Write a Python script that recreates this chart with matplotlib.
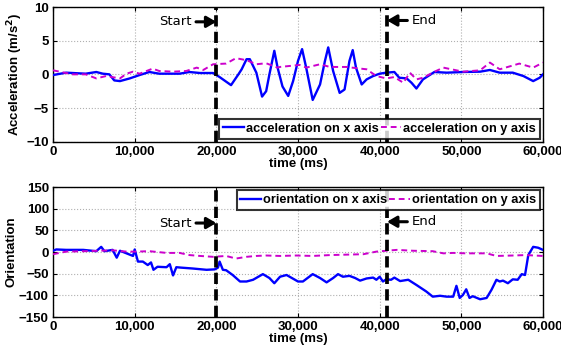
import matplotlib
matplotlib.use("Agg")
import matplotlib.pyplot as plt
from matplotlib.ticker import FuncFormatter

plt.rcParams["font.family"] = ["Liberation Sans", "DejaVu Sans"]
plt.rcParams["font.weight"] = "bold"

# acceleration, x axis (time in ms, value in m/s^2)
acc_x_t = [0, 1600, 4000, 5300, 6100, 6900, 7500, 8200, 9400, 10600, 11800, 13000,
           15500, 16700, 18000, 19600, 20400, 21800, 22700, 23100, 23700, 24100, 24900,
           25600, 26100, 26500, 27100, 27500, 28100, 28800, 29400, 30000, 30500, 31000,
           31800, 32700, 33300, 33700, 34300, 35100, 35700, 36300, 36700, 37100, 37800,
           38400, 39200, 40000, 40800, 41800, 42400, 43300, 43900, 44500, 45300, 46700,
           48200, 50200, 52300, 53500, 54700, 56300, 57600, 58800, 59600, 60000]
acc_x = [-0.1, 0.25, 0.1, 0.35, 0.1, 0.0, -0.9, -1.0, -0.6, -0.1, 0.35, 0.1,
         0.1, 0.35, 0.2, 0.2, -0.4, -1.6, 0.0, 0.75, 2.25, 2.25, 0.25,
         -3.3, -2.5, 0.0, 3.5, 1.0, -1.8, -3.2, -1.0, 2.0, 3.75, 1.0,
         -3.8, -1.5, 2.0, 4.0, 0.5, -2.75, -2.25, 2.0, 3.6, 1.0, -1.5,
         -0.75, -0.25, 0.1, 0.25, 0.35, -0.5, -0.6, -1.25, -2.1, -0.75, 0.35,
         0.25, 0.35, 0.4, 0.65, 0.25, 0.25, -0.25, -1.0, -0.5, 0.0]

# acceleration, y axis
acc_y_t = [0, 800, 2400, 4000, 5300, 6500, 8200, 9000, 9800, 10600, 12200, 13000,
           14700, 16300, 17600, 18400, 19600, 21200, 22400, 23700, 24900, 26100, 27500,
           27800, 30200, 31000, 32700, 33900, 35900, 38400, 39600, 40800, 41800, 42900,
           43700, 44500, 45300, 46900, 47800, 50200, 52300, 53500, 54700, 57100, 58800,
           60000]
acc_y = [0.6, 0.4, 0.0, 0.0, -0.6, -0.25, -0.6, 0.1, 0.4, 0.1, 0.85, 0.5,
         0.4, 0.5, 1.0, 0.65, 1.5, 1.6, 2.4, 2.1, 1.5, 1.65, 1.0,
         1.1, 1.4, 1.0, 1.5, 1.1, 1.1, 0.75, -0.25, -0.6, -0.4, -1.25,
         0.25, -0.75, -0.5, 0.5, 1.0, 0.4, 0.6, 1.75, 0.75, 1.6, 1.0,
         1.75]

# orientation, x axis
ori_x_t = [0, 400, 1600, 3700, 5300, 5900, 6300, 7300, 7800, 8200, 9000, 9800,
           10000, 10400, 11000, 11600, 12000, 12300, 12800, 13900, 14300, 14700, 15100,
           15700, 17100, 18800, 19800, 20200, 20400, 20800, 21200, 22000, 22900, 23700,
           24500, 25700, 26500, 27100, 27800, 28600, 30000, 30600, 31800, 32700, 33500,
           34300, 34900, 35500, 36300, 37000, 37600, 38400, 39200, 39600, 40000, 40400,
           40800, 41400, 41800, 42500, 43500, 44500, 45700, 46500, 47400, 48200, 49000,
           49400, 49800, 50200, 50600, 51000, 51400, 52300, 53100, 53700, 54300, 54700,
           55100, 55700, 56300, 56900, 57400, 57800, 58200, 58800, 59400, 60000]
ori_x = [3, 6, 5, 5, 2, 12, 2, 5, -13, 3, -3, -9,
         6, -22, -22, -30, -24, -41, -34, -35, -28, -54, -35,
         -36, -38, -41, -40, -36, -22, -41, -42, -53, -68, -68,
         -64, -51, -60, -72, -57, -53, -68, -68, -51, -60, -70,
         -60, -51, -57, -55, -60, -66, -61, -59, -64, -57, -68,
         -63, -64, -59, -67, -64, -76, -91, -103, -101, -103, -103,
         -78, -106, -99, -86, -106, -102, -109, -106, -87, -64, -68,
         -66, -72, -63, -64, -51, -53, -7, 12, 10, 5]

# orientation, y axis
ori_y_t = [0, 1600, 4000, 5700, 7300, 9000, 10200, 11800, 13900, 15500, 16700, 18000,
           19600, 21200, 22400, 23700, 24900, 26100, 27800, 29800, 31800, 33900, 35900,
           38000, 39600, 40800, 42100, 44100, 46500, 47800, 49000, 50600, 53100, 54300,
           56300, 57900, 60000]
ori_y = [-5, 1, 2, 3, 4, 1, 1, 2, -2, -2, -7, -9,
         -11, -9, -15, -11, -9, -8, -9, -8, -9, -7, -6,
         -5, 1, 3, 5, 3, 2, -3, -2, -3, -3, -9,
         -8, -7, -9]

start_t = 20000
end_t = 40900

fig = plt.figure(figsize=(5.61, 3.54), dpi=100)
ax1 = fig.add_axes([0.0945, 0.5997, 0.8734, 0.3805])
ax2 = fig.add_axes([0.0945, 0.1045, 0.8734, 0.367])

comma = FuncFormatter(lambda v, p: f"{int(v):,}")


def style_axis(ax, ylim, yticks, ylabel):
    ax.set_xlim(0, 60000)
    ax.set_ylim(*ylim)
    ax.set_xticks(range(0, 60001, 10000))
    ax.set_yticks(yticks)
    ax.xaxis.set_major_formatter(comma)
    ax.tick_params(direction="in", top=True, right=True, labelsize=9.5, width=0.8,
                   length=3, pad=3)
    ax.grid(True, color="#b0b0b0", linestyle=":", linewidth=0.8)
    ax.set_axisbelow(True)
    for s in ax.spines.values():
        s.set_linewidth(1.0)
    ax.set_xlabel("time (ms)", fontsize=9.5, fontweight="bold", labelpad=0)
    ax.set_ylabel(ylabel, fontsize=9.5, fontweight="bold", labelpad=1)


def mark_window(ax, y_start, y_end, x_pad):
    for t in (start_t, end_t):
        ax.axvline(t, color="black", linestyle=(0, (3, 1.4)), linewidth=2.7, zorder=4)
    arrow = dict(arrowstyle="-|>,head_width=0.35,head_length=0.6",
                 color="black", lw=2.2, shrinkA=1, shrinkB=0)
    ax.annotate("Start", xy=(start_t, y_start), xytext=(start_t - x_pad, y_start),
                ha="right", va="center", fontsize=9.5, fontweight="normal",
                family=["DejaVu Sans"], arrowprops=arrow)
    ax.annotate("End", xy=(end_t, y_end), xytext=(end_t + x_pad, y_end),
                ha="left", va="center", fontsize=9.5, fontweight="normal",
                family=["DejaVu Sans"], arrowprops=arrow)


def add_legend(ax, loc):
    leg = ax.legend(loc=loc, ncol=2, fontsize=9.2, frameon=True, fancybox=False,
                    borderpad=0.3, handlelength=1.6, handletextpad=0.15,
                    columnspacing=0.2, borderaxespad=0.25)
    leg.get_frame().set_edgecolor("black")
    leg.get_frame().set_linewidth(1.5)
    leg.set_zorder(5)


ax1.plot(acc_x_t, acc_x, color="#0000ff", lw=1.7, label="acceleration on x axis", zorder=3)
ax1.plot(acc_y_t, acc_y, color="#cc00cc", lw=1.4, linestyle=(0, (3, 2)),
         label="acceleration on y axis", zorder=3)
style_axis(ax1, (-10, 10), range(-10, 11, 5), r"Acceleration (m/s$^\mathbf{2}$)")
mark_window(ax1, 7.8, 8.0, 3000)
add_legend(ax1, "lower right")

ax2.plot(ori_x_t, ori_x, color="#0000ff", lw=1.7, label="orientation on x axis", zorder=3)
ax2.plot(ori_y_t, ori_y, color="#cc00cc", lw=1.4, linestyle=(0, (3, 2)),
         label="orientation on y axis", zorder=3)
style_axis(ax2, (-150, 150), range(-150, 151, 50), "Orientation")
mark_window(ax2, 67, 70, 3000)
add_legend(ax2, "upper right")

fig.savefig("out.png", dpi=100)
